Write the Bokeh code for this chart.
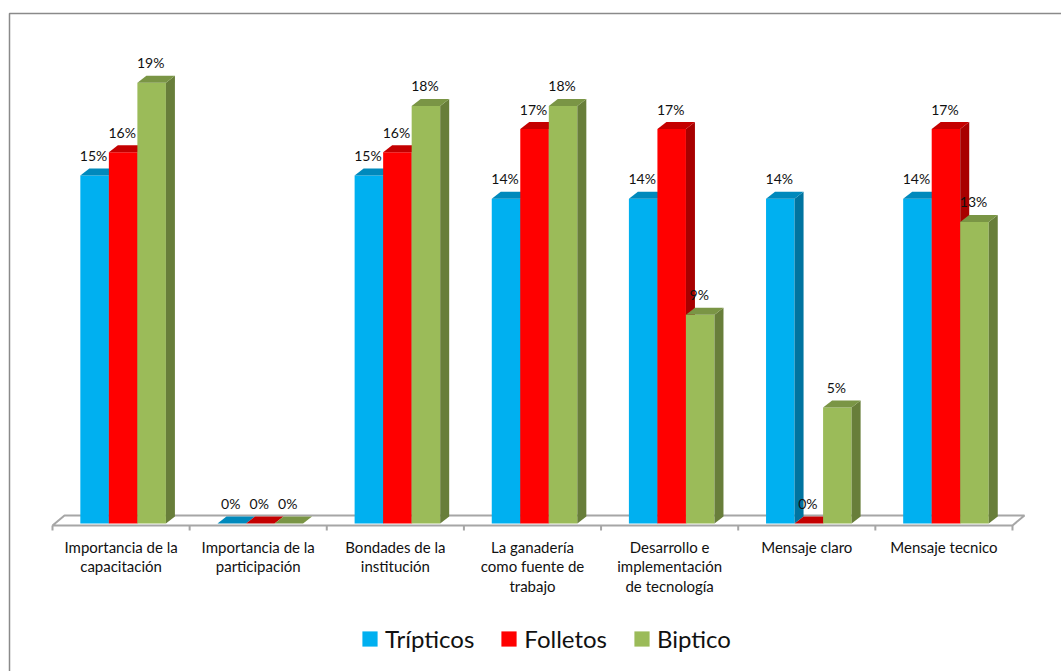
from bokeh.plotting import figure
from bokeh.models import Range1d, Legend, LegendItem, ColumnDataSource
from bokeh.core.properties import value
from bokeh.embed import file_html
from bokeh.resources import INLINE

# ---------------- data ----------------
categories = [
    "Importancia de la capacitación",
    "Importancia de la participación",
    "Bondades de la institución",
    "La ganadería como fuente de trabajo",
    "Desarrollo e implementación de tecnología",
    "Mensaje claro",
    "Mensaje tecnico",
]
category_lines = [
    ["Importancia de la", "capacitación"],
    ["Importancia de la", "participación"],
    ["Bondades de la", "institución"],
    ["La ganadería", "como fuente de", "trabajo"],
    ["Desarrollo e", "implementación", "de tecnología"],
    ["Mensaje claro"],
    ["Mensaje tecnico"],
]
series_names = ["Trípticos", "Folletos", "Biptico"]
tripticos = [15, 0, 15, 14, 14, 14, 14]
folletos = [16, 0, 16, 17, 17, 0, 17]
biptico = [19, 0, 18, 18, 9, 5, 13]
series_values = [tripticos, folletos, biptico]

# ---------------- styles ----------------
front_colors = ["#00B0F0", "#FF0000", "#9BBB59"]
side_colors = ["#0074A0", "#A80000", "#687E3A"]
top_colors = ["#0089BC", "#C40000", "#7A9545"]
FONT = "Lato"
TEXT_COLOR = "#111111"

W, H = 1061, 671
X0_PX, X_UNIT = 52.0, 137.14   # pixel of x=0, pixels per category
Y0_PX, Y_UNIT = 523.0, 23.2    # pixel of y=0, pixels per percent


def dx(px):
    return px / X_UNIT


def dy(px):
    return px / Y_UNIT


def X(px):
    return (px - X0_PX) / X_UNIT


def Y(py):
    return (Y0_PX - py) / Y_UNIT


p = figure(width=W, height=H, output_backend="svg", toolbar_location=None,
           x_range=Range1d(X(0), X(W)), y_range=Range1d(Y(H), Y(0)),
           min_border=0, tools="")
p.axis.visible = False
p.grid.visible = False
p.outline_line_color = None
p.background_fill_color = "white"
p.border_fill_color = "white"

# chart border (top and left edges visible)
p.line(x=[X(9), X(9), X(W + 20)], y=[Y(H + 20), Y(13), Y(13)],
       line_color="#8a8a8a", line_width=1.5)

# floor
n = len(categories)
FDX, FDY = dx(12), dy(10)
front_y = -dy(2)
p.patch(x=[0, n, n + FDX, FDX], y=[front_y, front_y, front_y + FDY, front_y + FDY],
        fill_color="white", line_color="#a6a6a6", line_width=2)
p.segment(x0=list(range(n + 1)), y0=[front_y] * (n + 1),
          x1=list(range(n + 1)), y1=[front_y - dy(5)] * (n + 1),
          line_color="#a6a6a6", line_width=2)

# bars
BAR_W = 0.208
GROUP_LEFT = 0.203
DX, DY = dx(9), dy(7)
legend_items = []
for s, vals in enumerate(series_values):
    lefts = [i + GROUP_LEFT + s * BAR_W for i in range(n)]
    rights = [l + BAR_W for l in lefts]
    src = ColumnDataSource(dict(left=lefts, right=rights, top=vals, bottom=[0] * n))
    r = p.quad(left="left", right="right", top="top", bottom="bottom", source=src,
               fill_color=front_colors[s], line_color=None)
    legend_items.append(LegendItem(label=series_names[s], renderers=[r]))
    side_xs = [[rt, rt + DX, rt + DX, rt] for rt in rights]
    side_ys = [[0, DY, v + DY, v] for v in vals]
    p.patches(xs=side_xs, ys=side_ys, fill_color=side_colors[s], line_color=None)
    top_xs = [[l, l + DX, rt + DX, rt] for l, rt in zip(lefts, rights)]
    top_ys = [[v, v + DY, v + DY, v] for v in vals]
    p.patches(xs=top_xs, ys=top_ys, fill_color=top_colors[s], line_color=None)

# value labels
for s, vals in enumerate(series_values):
    xs = [i + GROUP_LEFT + s * BAR_W + BAR_W / 2 - dx(1) for i in range(n)]
    ys = [v + dy(20) for v in vals]
    p.text(x=xs, y=ys, text=[f"{v}%" for v in vals], text_font=value(FONT),
           text_font_size="14px", text_align="center", text_baseline="middle",
           text_color=TEXT_COLOR)

# category labels
lx, ly, lt = [], [], []
for i, lines in enumerate(category_lines):
    for k, line in enumerate(lines):
        lx.append(i + 0.5)
        ly.append(Y(546 + k * 19.5))
        lt.append(line)
p.text(x=lx, y=ly, text=lt, text_font=value(FONT), text_font_size="15px",
       text_align="center", text_baseline="middle", text_color=TEXT_COLOR)

legend = Legend(items=legend_items, orientation="horizontal", location=(360, 18),
                glyph_width=19, glyph_height=19, label_standoff=6, spacing=25,
                padding=0, margin=0, border_line_color=None, background_fill_alpha=0,
                label_text_font=FONT, label_text_font_size="24px",
                label_text_color=TEXT_COLOR)
p.add_layout(legend)

open("out.html", "w").write(file_html(p, INLINE))
